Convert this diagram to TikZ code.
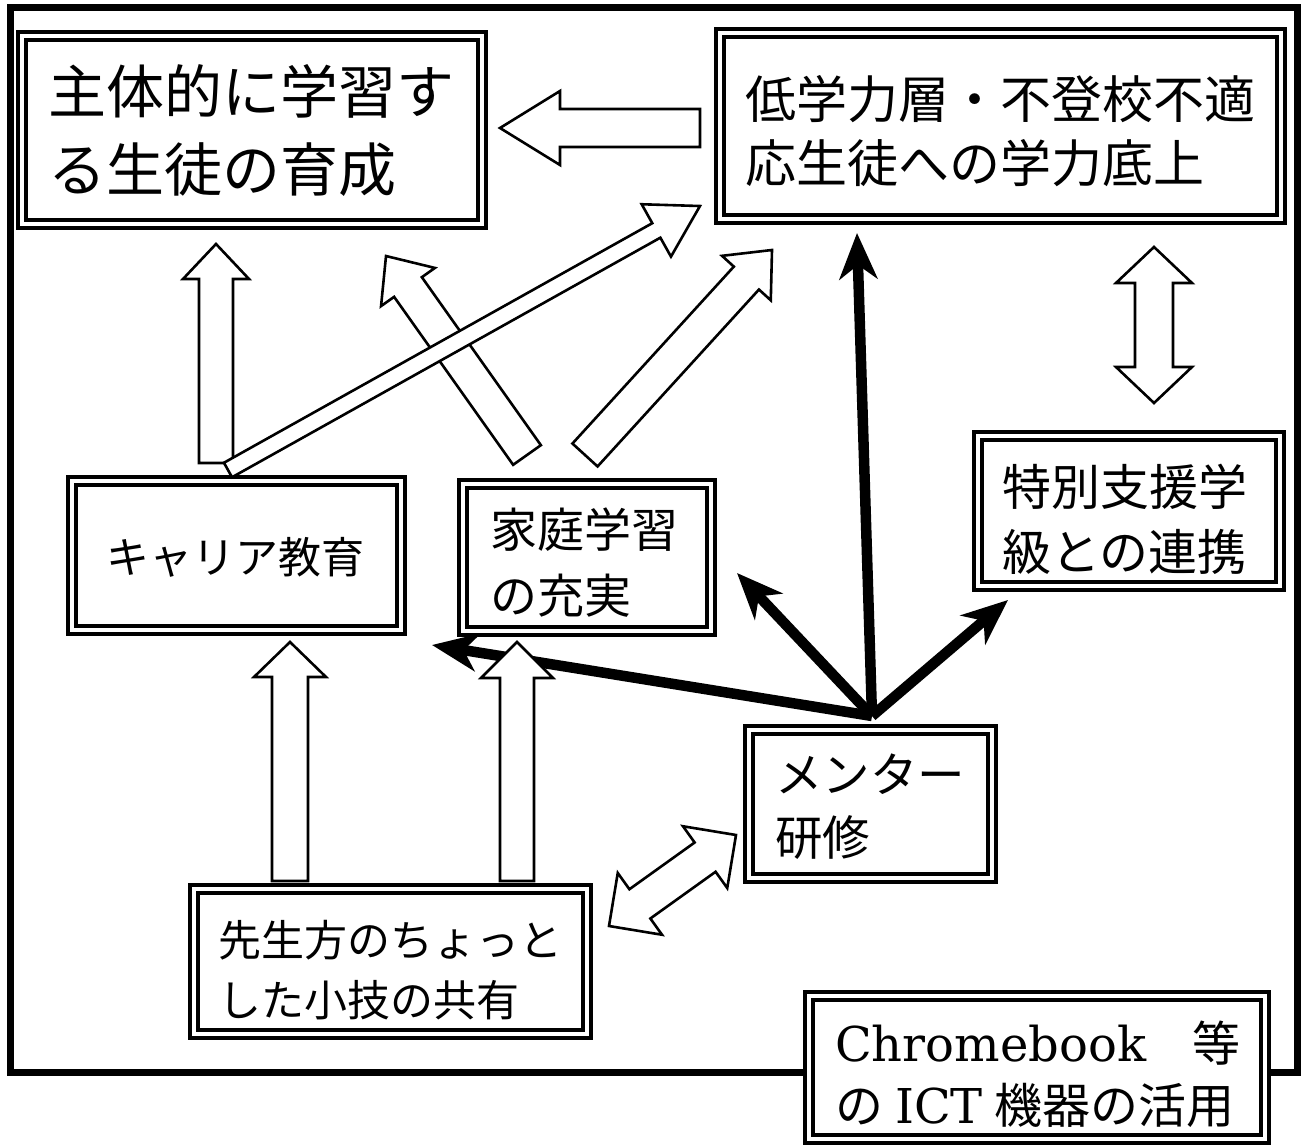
\documentclass[tikz,border=0pt]{standalone}
\usepackage{fontspec}
\setmainfont{DejaVu Serif}
\newfontfamily\jp{Noto Sans CJK JP}
\usetikzlibrary{arrows.meta}

\newcommand{\blockarrow}[5]{% from, to, shaft half width, head half width, head length
  \path #1; \pgfgetlastxy{\baxa}{\baya}%
  \path #2; \pgfgetlastxy{\baxb}{\bayb}%
  \pgfmathsetmacro\baang{atan2(\bayb-\baya,\baxb-\baxa)}%
  \pgfmathsetmacro\balen{veclen(\baxb-\baxa,\bayb-\baya)}%
  \pgfmathsetmacro\babase{\balen-#5}%
  \begin{scope}[shift={#1}, rotate=\baang]
    \draw[hollow] (0pt,-#3pt) -- (\babase pt,-#3pt) -- (\babase pt,-#4pt) -- (\balen pt,0pt)
      -- (\babase pt,#4pt) -- (\babase pt,#3pt) -- (0pt,#3pt) -- cycle;
  \end{scope}}

\newcommand{\dblockarrow}[5]{% end, end, shaft half width, head half width, head length
  \path #1; \pgfgetlastxy{\baxa}{\baya}%
  \path #2; \pgfgetlastxy{\baxb}{\bayb}%
  \pgfmathsetmacro\baang{atan2(\bayb-\baya,\baxb-\baxa)}%
  \pgfmathsetmacro\balen{veclen(\baxb-\baxa,\bayb-\baya)}%
  \pgfmathsetmacro\babase{\balen-#5}%
  \begin{scope}[shift={#1}, rotate=\baang]
    \draw[hollow] (0pt,0pt) -- (#5pt,-#4pt) -- (#5pt,-#3pt) -- (\babase pt,-#3pt) -- (\babase pt,-#4pt)
      -- (\balen pt,0pt) -- (\babase pt,#4pt) -- (\babase pt,#3pt) -- (#5pt,#3pt) -- (#5pt,#4pt) -- cycle;
  \end{scope}}

\tikzset{
  dbox/.style={draw, double, line width=3.6pt, double distance=4.4pt, fill=white, inner sep=0pt},
  txt/.style={anchor=west, inner sep=0pt, align=left},
  hollow/.style={draw, line width=2.6pt, fill=white, line join=miter},
  thickarr/.style={line width=10.5pt, -{Stealth[length=46pt, width=38pt, inset=14pt]}},
}

\begin{document}
\begin{tikzpicture}[x=1pt,y=-1pt]
\useasboundingbox (0,0) rectangle (1304,1145);
\fill[white] (0,0) rectangle (1304,1145);

% outer frame
\draw[line width=7pt] (10,8) rectangle (1297,1072);

% boxes
\node[dbox, minimum width=460pt, minimum height=188pt] (A) at (252,130) {};
\node[dbox, minimum width=561pt, minimum height=186pt] (B) at (1000.5,126) {};
\node[dbox, minimum width=329pt, minimum height=149pt] (C) at (236.5,555.5) {};
\node[dbox, minimum width=248pt, minimum height=147pt] (D) at (587,557.5) {};
\node[dbox, minimum width=302pt, minimum height=150pt] (E) at (1129,511) {};
\node[dbox, minimum width=243pt, minimum height=148pt] (F) at (870.5,804) {};
\node[dbox, minimum width=393pt, minimum height=145pt] (G) at (390.5,961.5) {};
\node[dbox, minimum width=456pt, minimum height=143pt] (H) at (1037,1067.5) {};

% texts
\node[txt, font={\jp\fontsize{58}{78}\selectfont}] (tA) at (48,131) {主体的に学習す\\る生徒の育成};
\node[txt, font={\jp\fontsize{51}{64}\selectfont}] (tB) at (745,131) {低学力層・不登校不適\\応生徒への学力底上};
\node[txt, font={\jp\fontsize{43}{50}\selectfont}] (tC) at (106,557) {キャリア教育};
\node[txt, font={\jp\fontsize{47}{66}\selectfont}] (tD) at (490,563) {家庭学習\\の充実};
\node[txt, font={\jp\fontsize{49}{65}\selectfont}] (tE) at (1002,519.5) {特別支援学\\級との連携};
\node[txt, font={\jp\fontsize{47.5}{63}\selectfont}] (tF) at (775,806.5) {メンター\\研修};
\node[txt, font={\jp\fontsize{43}{60}\selectfont}] (tG) at (218,970) {先生方のちょっと\\した小技の共有};
\node[txt, font={\fontsize{48}{62}\selectfont}] (tH) at (835,1074)
  {\makebox[405pt][l]{Chromebook\hfill{\jp 等}}\\\makebox[405pt][l]{{\jp の}\hspace{12pt}ICT\hspace{12pt}{\jp 機器の活用}}};

% thick black arrows from mentor training
\coordinate (hub) at (872,716);
\coordinate (pB) at (857,233);
\coordinate (pD) at (737,573);
\coordinate (pE) at (1008,600);
\coordinate (pC) at (432,645);
\draw[thickarr] (hub) -- (pB);
\draw[thickarr] (hub) -- (pD);
\draw[thickarr] (hub) -- (pE);
\draw[thickarr] (hub) -- (pC);

% hollow block arrows
\coordinate (a1s) at (700,128); \coordinate (a1e) at (500,128);
\blockarrow{(a1s)}{(a1e)}{19}{37}{60}
\coordinate (a4s) at (527,455); \coordinate (a4e) at (386,256);
\blockarrow{(a4s)}{(a4e)}{17}{33}{38}
\coordinate (a5s) at (585,455); \coordinate (a5e) at (772,250);
\blockarrow{(a5s)}{(a5e)}{17}{33}{38}
\coordinate (a2s) at (216,463); \coordinate (a2e) at (216,244);
\blockarrow{(a2s)}{(a2e)}{17}{33}{35}
\coordinate (a3s) at (228,470); \coordinate (a3e) at (700,206);
\blockarrow{(a3s)}{(a3e)}{8.3}{30}{50}
\coordinate (a6s) at (290,881); \coordinate (a6e) at (290,642);
\blockarrow{(a6s)}{(a6e)}{18}{36}{35}
\coordinate (a7s) at (517,881); \coordinate (a7e) at (517,642);
\blockarrow{(a7s)}{(a7e)}{17}{36}{36}
\coordinate (d1s) at (1154,247); \coordinate (d1e) at (1154,403);
\dblockarrow{(d1s)}{(d1e)}{19}{38}{36}
\coordinate (d2s) at (609,926); \coordinate (d2e) at (736,835);
\dblockarrow{(d2s)}{(d2e)}{18}{38}{38}
\end{tikzpicture}
\end{document}
